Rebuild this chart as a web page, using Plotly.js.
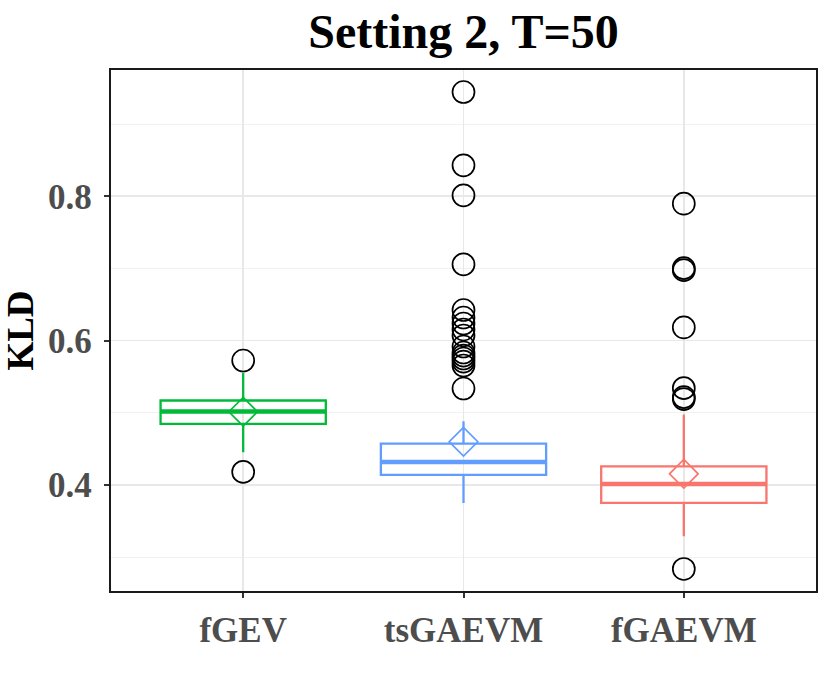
<!DOCTYPE html>
<html>
<head>
<meta charset="utf-8">
<script src="https://cdn.plot.ly/plotly-3.0.1.min.js"></script>
<style>html,body{margin:0;padding:0;background:#fff;}#chart{width:830px;height:691px;}</style>
</head>
<body>
<div id="chart"></div>
<script>
// ---- data ----
const categories = ["fGEV", "tsGAEVM", "fGAEVM"];
const colors = ["#00BA38", "#619CFF", "#F8766D"];
const q1 = [0.4846, 0.4139, 0.3750];
const medians = [0.5017, 0.4319, 0.4014];
const q3 = [0.5170, 0.4573, 0.4258];
const lowerWhisker = [0.4452, 0.3750, 0.3287];
const upperWhisker = [0.5553, 0.4882, 0.4975];
const means = [0.5014, 0.4598, 0.4154];
const outliersFGEV = [0.5724, 0.4180];
const outliersTsGAEVM = [0.9445, 0.8429, 0.8013, 0.7056, 0.6424, 0.6320, 0.6237, 0.6154,
                         0.6071, 0.5918, 0.5835, 0.5793, 0.5752, 0.5710, 0.5655, 0.5336];
const outliersFGAEVM = [0.7897, 0.7004, 0.6976, 0.6182, 0.5341, 0.5218, 0.5190, 0.2835];
const yTicks = [0.4, 0.6, 0.8];

const outlierSets = [outliersFGEV, outliersTsGAEVM, outliersFGAEVM];
const serif = "Liberation Serif";
const traces = [];

categories.forEach((c, i) => {
  // box with whiskers
  traces.push({
    type: "box", x: [c], q1: [q1[i]], median: [medians[i]], q3: [q3[i]],
    lowerfence: [lowerWhisker[i]], upperfence: [upperWhisker[i]],
    width: 0.75, whiskerwidth: 0, boxpoints: false,
    line: {color: colors[i], width: 2.3}, fillcolor: "rgba(255,255,255,0)",
    showlegend: false, hoverinfo: "skip"
  });
  // thicker median line
  traces.push({
    type: "box", x: [c], q1: [medians[i]], median: [medians[i]], q3: [medians[i]],
    lowerfence: [medians[i]], upperfence: [medians[i]],
    width: 0.75, whiskerwidth: 0, boxpoints: false,
    line: {color: colors[i], width: 4.5}, fillcolor: "rgba(255,255,255,0)",
    showlegend: false, hoverinfo: "skip"
  });
});

// outliers
const outX = [], outY = [];
outlierSets.forEach((arr, i) => arr.forEach(v => { outX.push(categories[i]); outY.push(v); }));
traces.push({
  type: "scatter", mode: "markers", x: outX, y: outY,
  marker: {symbol: "circle-open", size: 22, color: "#000", line: {width: 1.7, color: "#000"}},
  showlegend: false, hoverinfo: "skip"
});

// means
traces.push({
  type: "scatter", mode: "markers", x: categories, y: means,
  marker: {symbol: "diamond-open", size: 22, color: colors, line: {width: 1.7, color: colors}},
  showlegend: false, hoverinfo: "skip"
});

const layout = {
  width: 830, height: 691,
  paper_bgcolor: "#fff", plot_bgcolor: "#fff",
  margin: {l: 111, r: 14, t: 70, b: 100, pad: 0},
  boxmode: "overlay",
  title: {
    text: "Setting 2, T=50",
    font: {family: serif, size: 48, color: "#000", weight: "bold"},
    x: 0.5, xref: "paper", xanchor: "center",
    y: 1 - 31 / 691, yref: "container", yanchor: "middle"
  },
  xaxis: {
    type: "category", categoryorder: "array", categoryarray: categories,
    range: [-0.6, 2.6],
    showgrid: true, gridcolor: "#E8E8E8", gridwidth: 1.6,
    showline: true, mirror: true, linecolor: "#1a1a1a", linewidth: 2.2,
    ticks: "outside", ticklen: 5, tickwidth: 2, tickcolor: "#333333",
    tickfont: {family: serif, size: 35, color: "#4D4D4D", weight: "bold"},
    ticklabelstandoff: 2,
    zeroline: false, fixedrange: true
  },
  yaxis: {
    range: [0.253, 0.975],
    tickvals: yTicks, ticktext: yTicks.map(v => v.toFixed(1)),
    showgrid: true, gridcolor: "#E8E8E8", gridwidth: 1.6,
    minor: {dtick: 0.1, tick0: 0.3, showgrid: true, gridcolor: "#F0F0F0", gridwidth: 0.9, ticks: ""},
    showline: true, mirror: true, linecolor: "#1a1a1a", linewidth: 2.2,
    ticks: "outside", ticklen: 5, tickwidth: 2, tickcolor: "#333333",
    tickfont: {family: serif, size: 35, color: "#4D4D4D", weight: "bold"},
    ticklabelstandoff: 5,
    title: {text: "KLD", font: {family: serif, size: 37, color: "#000", weight: "bold"}, standoff: 10},
    zeroline: false, fixedrange: true, automargin: false
  }
};

Plotly.newPlot("chart", traces, layout, {staticPlot: true, displayModeBar: false});
</script>
</body>
</html>
